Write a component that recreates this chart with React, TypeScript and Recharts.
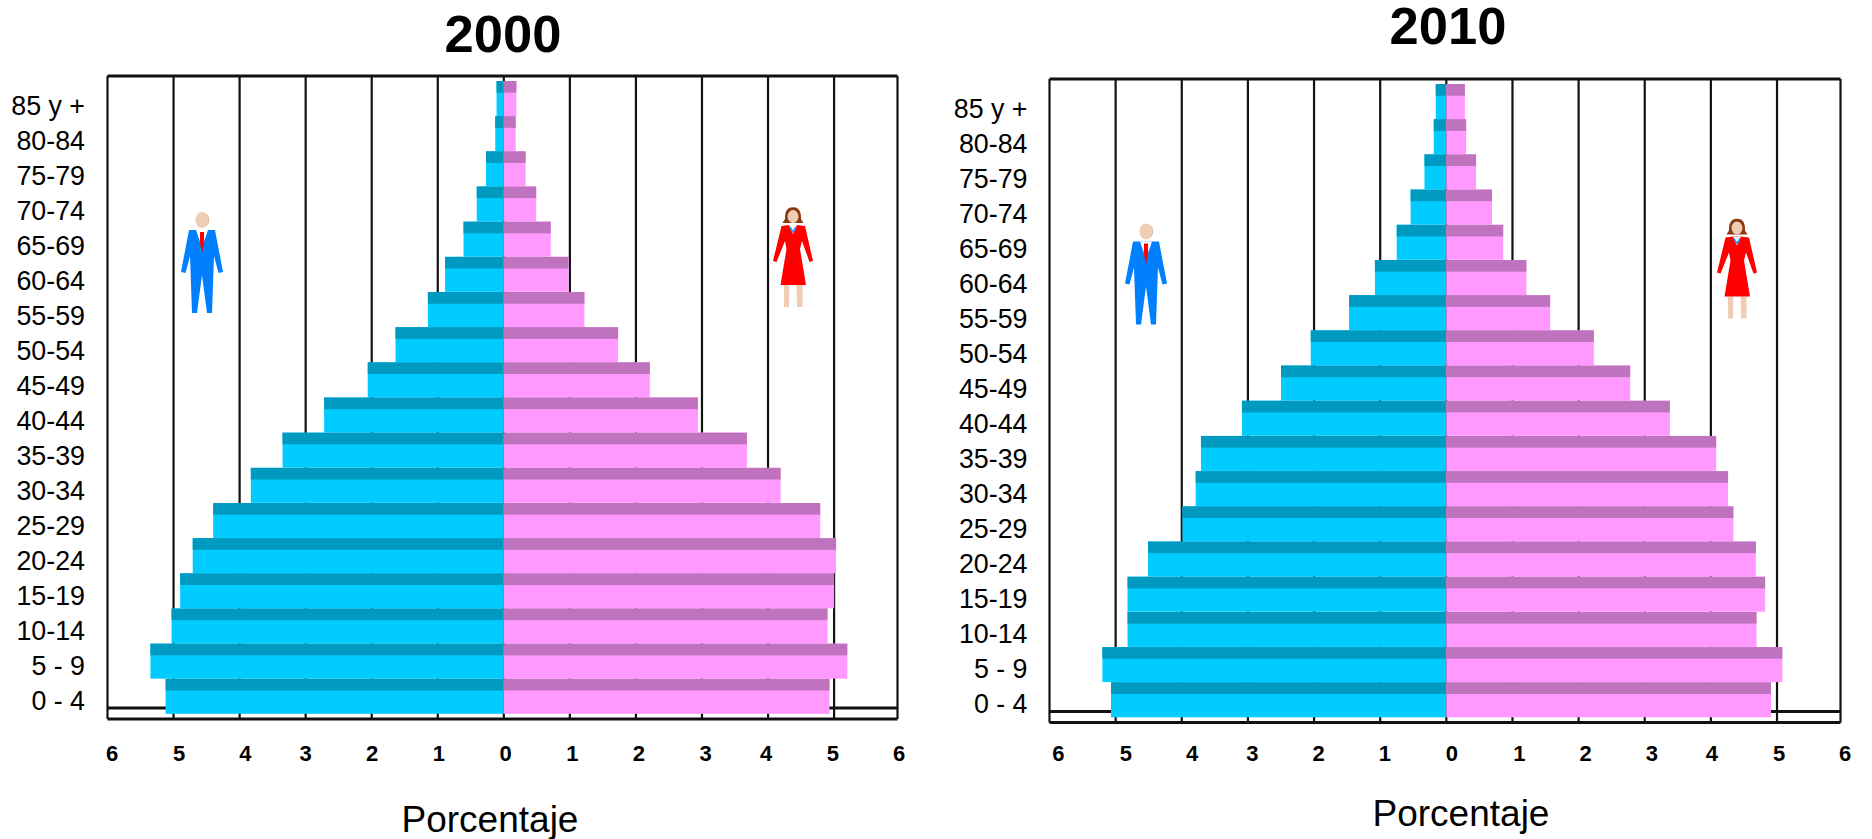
import React from "react";
import { BarChart, Bar, XAxis, YAxis, CartesianGrid } from "recharts";

const ageGroups = [
  "85 y +", "80-84", "75-79", "70-74", "65-69", "60-64", "55-59", "50-54", "45-49",
  "40-44", "35-39", "30-34", "25-29", "20-24", "15-19", "10-14", "5 - 9", "0 - 4",
];
// the source's right frame sits just short of a true 6
const axisEnd = 5.96;
const xTicks = [-6, -5, -4, -3, -2, -1, 0, 1, 2, 3, 4, 5, axisEnd];

const hombres2000 = [0.11, 0.13, 0.27, 0.41, 0.61, 0.89, 1.15, 1.64, 2.06, 2.72, 3.35, 3.83, 4.4, 4.71, 4.9, 5.03, 5.35, 5.12];
const mujeres2000 = [0.19, 0.18, 0.33, 0.49, 0.71, 0.98, 1.22, 1.73, 2.21, 2.94, 3.68, 4.19, 4.79, 5.03, 5.0, 4.9, 5.2, 4.93];
const hombres2010 = [0.16, 0.19, 0.33, 0.54, 0.75, 1.08, 1.47, 2.05, 2.5, 3.09, 3.71, 3.79, 3.99, 4.51, 4.82, 4.82, 5.2, 5.07];
const mujeres2010 = [0.28, 0.3, 0.45, 0.69, 0.86, 1.21, 1.57, 2.23, 2.78, 3.38, 4.08, 4.26, 4.34, 4.68, 4.82, 4.69, 5.08, 4.91];

// hand placed tick labels in the source, so each one is a little off its gridline
const labelNudge2000 = [4.7, 5.5, 5.8, 0, 0.3, 1, 1.9, 2.6, 3, 3.7, -2, -1.2, 1.5];
const labelNudge2010 = [8.9, 10.3, 10.3, 4.5, 4.7, 4.8, 5.5, 6.9, 7, 7.1, 1.1, 2, 4.5];

const FONT = "'Liberation Sans', Arial, sans-serif";
const WIDTH = 936;
const HEIGHT = 839;

const BandedBar = ({ x, y, width, height, fill, dark }: any) => {
  const left = Math.min(x, x + width);
  const w = Math.abs(width);
  return (
    <g>
      <rect x={left} y={y} width={w} height={height} fill={fill} />
      <rect x={left} y={y} width={w} height={height / 3} fill={dark} />
    </g>
  );
};

interface PyramidProps {
  left: number;
  plotLeft: number;
  plotRight: number;
  plotTop: number;
  plotBottom: number;
  innerLine: number;
  labelRight: number;
  labelNudge: number[];
  male: number[];
  female: number[];
}

const Pyramid: React.FC<PyramidProps> = ({
  left,
  plotLeft,
  plotRight,
  plotTop,
  plotBottom,
  innerLine,
  labelRight,
  labelNudge,
  male,
  female,
}) => {
  const data = ageGroups.map((age, i) => ({ age, male: -male[i], female: female[i] }));

  const yTick = ({ y, index, payload }: any) => (
    <text
      x={labelRight}
      y={y + 7.2 - (3.1 * index) / 17 + 9.4}
      textAnchor="end"
      fontFamily={FONT}
      fontSize={26.8}
      fill="#000"
    >
      {payload.value}
    </text>
  );

  const xTick = ({ x, index, payload }: any) => (
    <text
      x={x + labelNudge[index]}
      y={761}
      textAnchor="middle"
      fontFamily={FONT}
      fontSize={22}
      fontWeight={700}
      fill="#000"
    >
      {Math.round(Math.abs(payload.value))}
    </text>
  );

  return (
    <div style={{ position: "absolute", left, top: 0, width: WIDTH, height: HEIGHT }}>
      <BarChart
        width={WIDTH}
        height={HEIGHT}
        data={data}
        layout="vertical"
        stackOffset="sign"
        barCategoryGap={0}
        margin={{ top: plotTop, right: WIDTH - plotRight, bottom: 0, left: 0 }}
      >
        <CartesianGrid stroke="#111" strokeWidth={2.2} horizontal={false} />
        <CartesianGrid
          stroke="#111"
          strokeWidth={3}
          vertical={false}
          horizontalPoints={[plotTop, innerLine, plotBottom]}
        />
        <XAxis
          type="number"
          domain={[-6, axisEnd]}
          ticks={xTicks}
          height={HEIGHT - plotBottom}
          axisLine={false}
          tickLine={false}
          tick={xTick}
          interval={0}
        />
        <YAxis
          type="category"
          dataKey="age"
          width={plotLeft}
          axisLine={false}
          tickLine={false}
          tick={yTick}
          interval={0}
          padding={{ top: 5, bottom: 5 }}
        />
        <Bar
          dataKey="male"
          stackId="a"
          isAnimationActive={false}
          shape={(props: any) => <BandedBar {...props} fill="#00CCFF" dark="#0099BF" />}
        />
        <Bar
          dataKey="female"
          stackId="a"
          isAnimationActive={false}
          shape={(props: any) => <BandedBar {...props} fill="#FF99FF" dark="#BF73BF" />}
        />
      </BarChart>
    </div>
  );
};

const Hombre = ({ x, y }: { x: number; y: number }) => (
  <g transform={`translate(${x},${y})`}>
    <ellipse cx={0} cy={0} rx={6.5} ry={8} fill="#EFCDB4" />
    <path d="M3,-7 A6.5,8 0 0 1 3,7 A8,8 0 0 0 3,-7 Z" fill="#D9A98C" />
    <polygon
      points="-13,10 13,10 21,52 16.5,53 12,36 10,93 5,93 0,55 -5,93 -10,93 -12,36 -16.5,53 -21,52"
      fill="#0080FF"
    />
    <polygon points="-6,10 6,10 0,28" fill="#FFFFFF" />
    <polygon points="-2,12 2,12 2.2,22 0,33 -2.2,22" fill="#FF0000" />
  </g>
);

const Mujer = ({ x, y }: { x: number; y: number }) => (
  <g transform={`translate(${x},${y})`}>
    <path d="M0,-9.7 C8,-9.7 8,-2 8,2 L10.5,6 L-10.5,6 L-8,2 C-8,-2 -8,-9.7 0,-9.7 Z" fill="#8B3A10" />
    <ellipse cx={0} cy={-0.5} rx={5.5} ry={6.5} fill="#EFCDB4" />
    <polygon points="3.6,68 9.5,68 9.5,90 4,90" fill="#EFCDB4" />
    <polygon points="-9,68 -3.6,68 -4,90 -9,90" fill="#EFCDB4" />
    <polygon
      points="-11.5,9 -4,8 4,8 12,9 20,44 16.5,45 9,24 7,32 13,68 -12.5,68 -6.5,32 -8,24 -16.5,45 -20,44"
      fill="#FF0000"
    />
    <polygon points="-4,8 4,8 0,17" fill="#FFFFFF" />
    <polyline points="-3,10 0,15 3,10" fill="none" stroke="#2A9BFF" strokeWidth={1.5} />
  </g>
);

const textStyle = { fontFamily: FONT, fill: "#000" };

export default function App() {
  return (
    <div style={{ position: "absolute", left: 0, top: 0, width: 1872, height: HEIGHT, background: "#fff" }}>
      <Pyramid
        left={0}
        plotLeft={107.5}
        plotRight={897.5}
        plotTop={76}
        plotBottom={719}
        innerLine={708}
        labelRight={85}
        labelNudge={labelNudge2000}
        male={hombres2000}
        female={mujeres2000}
      />
      <Pyramid
        left={936}
        plotLeft={113.5}
        plotRight={904.5}
        plotTop={79}
        plotBottom={722.5}
        innerLine={711.5}
        labelRight={91.5}
        labelNudge={labelNudge2010}
        male={hombres2010}
        female={mujeres2010}
      />
      <svg width={1872} height={HEIGHT} style={{ position: "absolute", left: 0, top: 0, pointerEvents: "none" }}>
        <text x={503} y={52} textAnchor="middle" fontSize={52.5} fontWeight={700} {...textStyle}>2000</text>
        <text x={1448} y={44} textAnchor="middle" fontSize={52.5} fontWeight={700} {...textStyle}>2010</text>
        <text x={490} y={832} textAnchor="middle" fontSize={37} {...textStyle}>Porcentaje</text>
        <text x={1461} y={826} textAnchor="middle" fontSize={37} {...textStyle}>Porcentaje</text>
        <Hombre x={202} y={220} />
        <Mujer x={793} y={217} />
        <Hombre x={1146} y={231.5} />
        <Mujer x={1737} y={228.5} />
      </svg>
    </div>
  );
}
